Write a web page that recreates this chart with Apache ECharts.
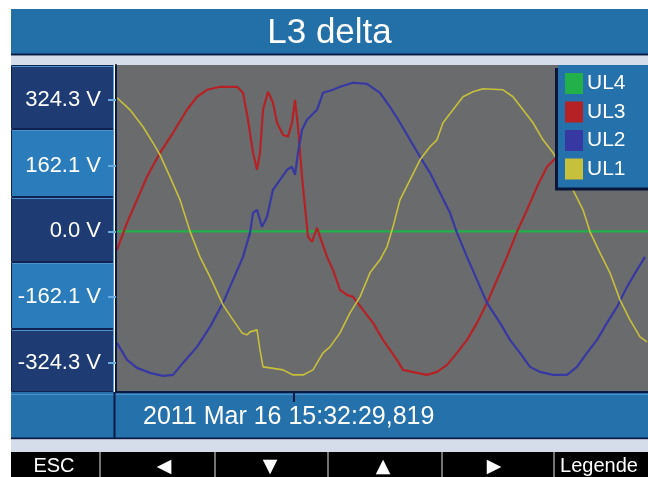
<!DOCTYPE html>
<html><head><meta charset="utf-8">
<script src="https://cdn.jsdelivr.net/npm/echarts@6/dist/echarts.min.js"></script>
<style>html,body{margin:0;padding:0;background:#fff}#c{width:648px;height:477px}</style>
</head><body><div id="c"></div>
<script>
// ---------- data ----------
const titleText = 'L3 delta';
const timestampText = '2011 Mar 16 15:32:29,819';
const buttonLabels = ['ESC', '◀', '▼', '▲', '▶', 'Legende'];
const yTickValues = [-324.3, -162.1, 0, 162.1, 324.3];
const cursorTime = [8.9];            // ms
const legendOrder = ['UL4', 'UL3', 'UL2', 'UL1'];

// time in ms, voltage in V
const t_UL4 = [0, 26.6];
const v_UL4 = [0, 0];

const t_UL3 = [0.05,0.55,1.05,1.55,2.2,2.85,3.55,4.05,4.55,5.2,6.05,6.35,6.6,6.85,7.05,7.2,7.35,7.6,7.85,8.05,8.35,8.6,8.8,8.95,9.1,9.3,9.45,9.6,9.8,10.05,10.2,10.55,10.85,11.2,11.55,11.85,12.35,12.85,13.35,13.7,14.05,14.35,15.05,15.55,16.05,16.55,17.05,17.55,18.05,18.55,19.05,19.55,20.05,20.55,21.05,21.55,22.05,22.55,23.05,23.7,24.45,25.2,25.95,26.55];
const v_UL3 = [-45.6,21,77.7,134.4,193.6,242.9,299.6,331.7,348.9,356.3,356.3,341.5,275,193.6,151.7,193.6,299.6,344,316.9,267.6,238,233,267.6,324.3,257.7,134.4,60.4,-13.6,-25.9,8.6,-13.6,-62.9,-94.9,-144.3,-156.6,-161.5,-193.6,-225.6,-267.6,-292.2,-316.9,-341.5,-348.9,-353.9,-346.5,-329.2,-299.6,-267.6,-225.6,-176.3,-119.6,-62.9,-1.2,53,109.7,159.1,183.7,238,287,336,354,354,332,300];

const t_UL2 = [0.05,0.55,1.05,1.7,2.35,2.85,3.35,4.05,4.7,5.35,5.85,6.35,6.7,6.85,7.05,7.3,7.55,7.85,8.2,8.55,8.8,8.95,9.1,9.3,9.55,10.05,10.35,10.85,11.2,11.85,12.55,13.2,13.7,14.2,14.7,15.2,15.7,16.2,16.7,17.05,17.55,18.05,18.55,19.2,19.7,20.2,20.7,21.2,21.85,22.55,23.05,23.55,24.05,24.55,25.05,25.55,26.05,26.45];
const v_UL2 = [-275,-316.9,-336.6,-348.9,-356.3,-353.9,-324.3,-284.8,-235.5,-176.3,-119.6,-62.9,-3.7,45.6,53,11.1,35.8,102.3,127,151.7,159.1,139.3,193.6,250.3,275,299.6,341.5,348.9,356.3,366.2,363.7,341.5,307,267.6,225.6,183.7,144.3,94.9,45.6,-3.7,-62.9,-119.6,-176.3,-225.6,-267.6,-299.6,-334.1,-346.5,-353.9,-353.9,-334.1,-299.6,-267.6,-225.6,-186.2,-136.9,-94.9,-62.9];

const t_UL1 = [0.05,0.7,1.35,1.85,2.2,2.7,3.2,3.7,4.2,4.7,5.35,5.85,6.3,6.55,6.7,7.05,7.2,7.35,7.7,8.35,8.85,9.35,9.85,10.35,10.7,11.2,11.7,12.2,12.7,13.2,13.55,13.85,14.2,14.7,15.2,15.7,16.05,16.35,16.85,17.35,17.85,18.35,19.35,19.85,20.35,20.85,21.35,21.85,22.35,22.85,23.35,23.7,24.2,24.7,25.2,25.7,26.2,26.55];
const v_UL1 = [329.2,299.6,257.7,218.2,188.6,134.4,77.7,0,-62.9,-112.2,-181.3,-218.2,-250.3,-255.2,-247.8,-242.9,-292.2,-334.1,-336.6,-341.5,-353.9,-353.9,-341.5,-299.6,-284.8,-250.3,-201,-161.5,-102.3,-70.3,-38.2,11.1,77.7,127,176.3,208.4,225.6,267.6,299.6,331.7,344,351.4,348.9,331.7,299.6,267.6,225.6,193.6,151.7,102.3,53,-1.2,-53,-102.3,-168.9,-218.2,-260.2,-272.5];

function pairs(t, v) { return t.map((x, i) => [x, v[i]]); }

// ---------- layout ----------
const FONT = '"Liberation Sans", Arial, sans-serif';
const cellBounds = [65, 129, 197, 262, 329, 392];
const sepX = [100, 215, 328, 442, 554];
const btnCenters = [54, 164, 270, 383, 494, 599];

const g = [];
g.push({type:'rect', z:1, shape:{x:11,y:9,width:637,height:46}, style:{fill:'#2370a8'}});
g.push({type:'line', z:2, shape:{x1:11,y1:54.5,x2:648,y2:54.5}, style:{stroke:'#0b1a45',lineWidth:2}});
g.push({type:'rect', z:1, shape:{x:11,y:55.5,width:637,height:9.5}, style:{fill:'#d5dcea'}});
for (let i = 0; i < 5; i++) {
  g.push({type:'rect', z:1, shape:{x:11.5,y:cellBounds[i]+0.5,width:102,height:cellBounds[i+1]-cellBounds[i]-1},
    style:{fill: i % 2 === 0 ? '#1e3b74' : '#2b7cbb', stroke:'#0f2352', lineWidth:1}});
  g.push({type:'line', z:1, shape:{x1:12,y1:cellBounds[i]+1.5,x2:113,y2:cellBounds[i]+1.5}, style:{stroke:'#4f8fcc',lineWidth:1}});
}
g.push({type:'line', z:1, shape:{x1:113.5,y1:65,x2:113.5,y2:392}, style:{stroke:'#5d9ad2',lineWidth:1}});
g.push({type:'rect', z:1, shape:{x:11,y:392,width:637,height:47}, style:{fill:'#2571ab'}});
g.push({type:'line', z:1, shape:{x1:11,y1:438.5,x2:648,y2:438.5}, style:{stroke:'#0b1a45',lineWidth:2}});
g.push({type:'line', z:1, shape:{x1:11,y1:394.5,x2:648,y2:394.5}, style:{stroke:'#4f8fcc',lineWidth:1}});
g.push({type:'line', z:1, shape:{x1:114.5,y1:392,x2:114.5,y2:439}, style:{stroke:'#0b1a45',lineWidth:2}});
g.push({type:'rect', z:1, shape:{x:11,y:439.5,width:637,height:12.5}, style:{fill:'#d5dcea'}});
g.push({type:'rect', z:1, shape:{x:11,y:452,width:637,height:25}, style:{fill:'#000'}});
sepX.forEach(x => g.push({type:'line', z:2, shape:{x1:x,y1:452,x2:x,y2:477}, style:{stroke:'#9a9a9a',lineWidth:1.5}}));
buttonLabels.forEach((s, i) => {
  const arrow = i > 0 && i < 5;
  g.push({type:'text', z:10, style:{text:s, x:btnCenters[i], y:arrow ? 467 : 466, textAlign:'center', textVerticalAlign:'middle',
    align:'center', verticalAlign:'middle', fill:'#fff', font: arrow ? '19px "DejaVu Sans", sans-serif' : '20px ' + FONT}});
});
g.push({type:'text', z:10, style:{text:titleText, x:329.5, y:33, textAlign:'center', textVerticalAlign:'middle',
  align:'center', verticalAlign:'middle', fill:'#fff', font:'35px ' + FONT}});
g.push({type:'text', z:10, style:{text:timestampText, x:143, y:417, textAlign:'left', textVerticalAlign:'middle',
  align:'left', verticalAlign:'middle', fill:'#fff', font:'25px ' + FONT}});

const colors = {UL4:'#22b04a', UL3:'#b52226', UL2:'#3838a2', UL1:'#c6c03a'};
const mk = (name, t, v, w) => ({name, type:'line', data:pairs(t, v), showSymbol:false, symbol:'none',
  lineStyle:{color:colors[name], width:w}, itemStyle:{color:colors[name]}, animation:false, z:2});

const chart = echarts.init(document.getElementById('c'), null, {renderer:'canvas'});
chart.setOption({
  backgroundColor:'#ffffff',
  animation:false,
  graphic:g,
  grid:{left:116, right:0, top:65, bottom:85, show:true, backgroundColor:'#6a6b6d', borderWidth:0, containLabel:false},
  xAxis:{type:'value', min:0, max:26.6, z:5, position:'bottom',
    axisLine:{show:true, onZero:false, lineStyle:{color:'#0b1a45', width:2}},
    axisTick:{show:true, customValues:cursorTime, length:10, inside:false, lineStyle:{color:'#0b1a45', width:2}},
    axisLabel:{show:false}, splitLine:{show:false}},
  yAxis:{type:'value', min:-396, max:410, z:5,
    axisLine:{show:true, onZero:false, lineStyle:{color:'#0b1a45', width:2}},
    axisTick:{show:true, customValues:yTickValues, length:8, lineStyle:{color:'#6aaae2', width:2}},
    axisLabel:{show:true, customValues:yTickValues, margin:15, color:'#fff', fontSize:22, fontFamily:'Liberation Sans, Arial, sans-serif',
      formatter: v => v.toFixed(1) + ' V'},
    splitLine:{show:false}},
  legend:{show:true, orient:'vertical', left:558, top:65, data:legendOrder, icon:'rect', itemWidth:18, itemHeight:21,
    itemGap:7.5, padding:[8, 30, 8, 7], backgroundColor:'#2471ab', selectedMode:false,
    shadowColor:'#08163a', shadowOffsetX:-3, shadowOffsetY:3, shadowBlur:0,
    textStyle:{color:'#fff', fontSize:21, fontFamily:'Liberation Sans, Arial, sans-serif', padding:[0,0,0,-1]}},
  series:[
    mk('UL4', t_UL4, v_UL4, 2.2),
    mk('UL3', t_UL3, v_UL3, 2.2),
    mk('UL2', t_UL2, v_UL2, 2.2),
    mk('UL1', t_UL1, v_UL1, 1.6)
  ]
});
</script></body></html>
